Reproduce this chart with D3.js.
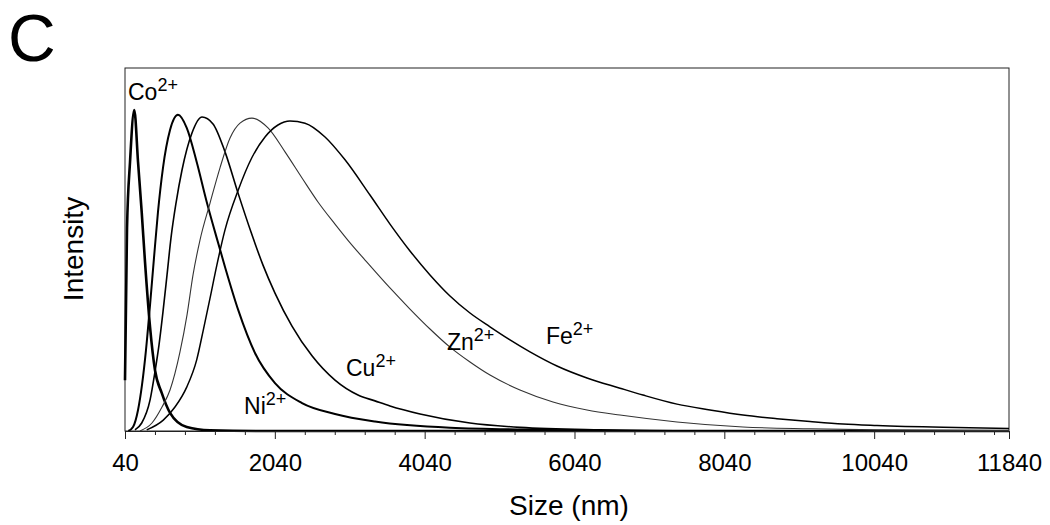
<!DOCTYPE html>
<html>
<head>
<meta charset="utf-8">
<script src="https://cdn.jsdelivr.net/npm/d3@7"></script>
<style>
  html, body { margin: 0; padding: 0; background: #fff; }
  svg { display: block; }
  text { font-family: Arial, "Liberation Sans", sans-serif; fill: #000; }
</style>
</head>
<body>
<svg id="chart" width="1050" height="525"></svg>
<script>
// ---- data (size in nm, relative intensity) ----
const coSize = [40, 67, 107, 164, 214, 263, 307, 374, 440, 530, 641, 864, 1175, 1842, 11840];
const coInt  = [14.0, 55.9, 74.1, 88.4, 74.1, 60.3, 46.6, 28.7, 16.8, 10.5, 5.0, 1.1, 0.2, 0, 0];

const niSize = [84, 147, 214, 267, 320, 374, 427, 480, 547, 641, 747, 864, 997, 1131, 1264, 1375, 1552, 1775, 2042, 2403, 2843, 3377, 4378, 5713, 7048, 11840];
const niInt  = [0, 1.1, 5.8, 12.7, 22.3, 34.7, 47.7, 60.3, 72.5, 82.9, 87.1, 83.5, 74.1, 63.1, 53.2, 45.2, 33.3, 21.5, 13.2, 7.7, 4.7, 2.6, 0.9, 0.3, 0, 0];

const cuSize = [173, 263, 374, 440, 494, 547, 601, 654, 721, 801, 934, 1068, 1215, 1375, 1548, 1722, 1882, 2042, 2269, 2536, 2843, 3150, 3377, 3577, 3978, 4645, 5312, 6380, 7715, 11840];
const cuInt  = [0.3, 2.2, 8.5, 16.3, 23.7, 32.8, 43.0, 53.2, 62.8, 71.9, 82.1, 86.5, 84.6, 76.9, 65.6, 54.8, 45.7, 38.0, 28.9, 20.7, 14.0, 9.9, 8.3, 6.9, 4.7, 2.2, 1.0, 0.3, 0, 0];

const znSize = [240, 400, 534, 641, 774, 868, 948, 1041, 1175, 1308, 1442, 1575, 1735, 1949, 2176, 2403, 2616, 2843, 3070, 3244, 3577, 3844, 4111, 4378, 4645, 4912, 5312, 5753, 6207, 6647, 7408, 8289, 9183, 10078, 11840];
const znInt  = [0, 2.2, 6.6, 11.3, 21.8, 32.0, 43.0, 52.6, 62.8, 72.5, 80.7, 84.8, 86.2, 83.5, 76.9, 69.7, 63.1, 57.0, 51.2, 47.1, 39.4, 33.6, 28.1, 23.1, 19.0, 15.4, 11.3, 8.0, 5.8, 4.4, 2.5, 1.1, 0.6, 0.3, 0.1];

const feSize = [330, 551, 707, 864, 997, 1085, 1175, 1264, 1375, 1552, 1731, 1909, 2082, 2242, 2443, 2710, 2977, 3310, 3577, 3844, 4111, 4378, 4645, 4912, 5179, 5446, 5806, 6207, 6647, 6954, 7408, 7849, 8289, 8743, 9183, 9624, 10078, 10959, 11840];
const feInt  = [0.3, 3.0, 6.6, 12.1, 19.6, 27.8, 36.6, 45.5, 55.4, 66.4, 75.2, 81.0, 84.3, 85.4, 84.8, 81.0, 74.7, 65.0, 57.0, 49.6, 43.0, 37.2, 32.5, 28.7, 25.1, 21.8, 17.9, 14.6, 11.8, 9.9, 7.4, 5.8, 4.4, 3.4, 2.6, 1.9, 1.5, 1.0, 0.7];

const seriesNames = ["Co", "Ni", "Cu", "Zn", "Fe"];
const seriesSizes = [coSize, niSize, cuSize, znSize, feSize];
const seriesInts  = [coInt, niInt, cuInt, znInt, feInt];

const xTickValues = [40, 2040, 4040, 6040, 8040, 10040, 11840];
const xDomain = [40, 11840];
const yDomain = [0, 100];

// label anchor positions in data units
const labelSize = [80, 1629, 2990, 4338, 5660];
const labelInt  = [91.2, 4.7, 15.2, 22.3, 24.0];

// ---- chart ----
const svg = d3.select("#chart");
const L = 125, R = 1009, T = 68, B = 431;

const x = d3.scaleLinear().domain(xDomain).range([L, R]);
const y = d3.scaleLinear().domain(yDomain).range([B, T]);

// frame
svg.append("rect")
  .attr("x", L).attr("y", T).attr("width", R - L).attr("height", B - T)
  .attr("fill", "none").attr("stroke", "#222").attr("stroke-width", 1);

// curves
const styles = {
  Co: { w: 2.6, c: "#000" },
  Ni: { w: 2.0, c: "#000" },
  Cu: { w: 1.6, c: "#000" },
  Zn: { w: 1.1, c: "#333" },
  Fe: { w: 1.5, c: "#000" }
};
const line = d3.line()
  .x(d => x(d[0])).y(d => y(d[1]))
  .curve(d3.curveMonotoneX);

const g = svg.append("g");
seriesNames.forEach((name, i) => {
  const pts = seriesSizes[i].map((s, j) => [s, seriesInts[i][j]]);
  g.append("path")
    .datum(pts)
    .attr("d", line)
    .attr("fill", "none")
    .attr("stroke", styles[name].c)
    .attr("stroke-width", styles[name].w)
    .attr("stroke-linejoin", "round");
});

// x axis
const xAxisMinor = d3.axisBottom(x)
  .tickValues(d3.range(440, 11840, 400).filter(v => (v - 40) % 2000 !== 0))
  .tickSize(4).tickFormat("");
const xAxis = d3.axisBottom(x).tickValues(xTickValues).tickSize(8).tickPadding(15)
  .tickFormat(d3.format("d"));

const axm = svg.append("g").attr("transform", `translate(0,${B})`).call(xAxisMinor);
axm.select(".domain").remove();
axm.selectAll("line").attr("stroke", "#222");

const ax = svg.append("g").attr("transform", `translate(0,${B})`).call(xAxis);
ax.select(".domain").attr("stroke", "#222");
ax.selectAll("line").attr("stroke", "#222");
ax.selectAll("text")
  .style("font-family", "Arial, 'Liberation Sans', sans-serif")
  .style("font-size", "24px")
  .attr("fill", "#000");

// axis titles
svg.append("text")
  .attr("x", (L + R) / 2 + 2).attr("y", 515)
  .attr("text-anchor", "middle")
  .style("font-size", "28px")
  .text("Size (nm)");

svg.append("text")
  .attr("transform", "translate(83,249) rotate(-90)")
  .attr("text-anchor", "middle")
  .style("font-size", "28px")
  .text("Intensity");

// panel letter
svg.append("text")
  .attr("x", 8).attr("y", 61)
  .style("font-size", "66px")
  .text("C");

// series labels
seriesNames.forEach((name, i) => {
  const t = svg.append("text")
    .attr("x", x(labelSize[i]))
    .attr("y", y(labelInt[i]))
    .style("font-size", "23px");
  t.append("tspan").text(name);
  t.append("tspan").attr("dy", -9).style("font-size", "18px").text("2+");
});
</script>
</body>
</html>
